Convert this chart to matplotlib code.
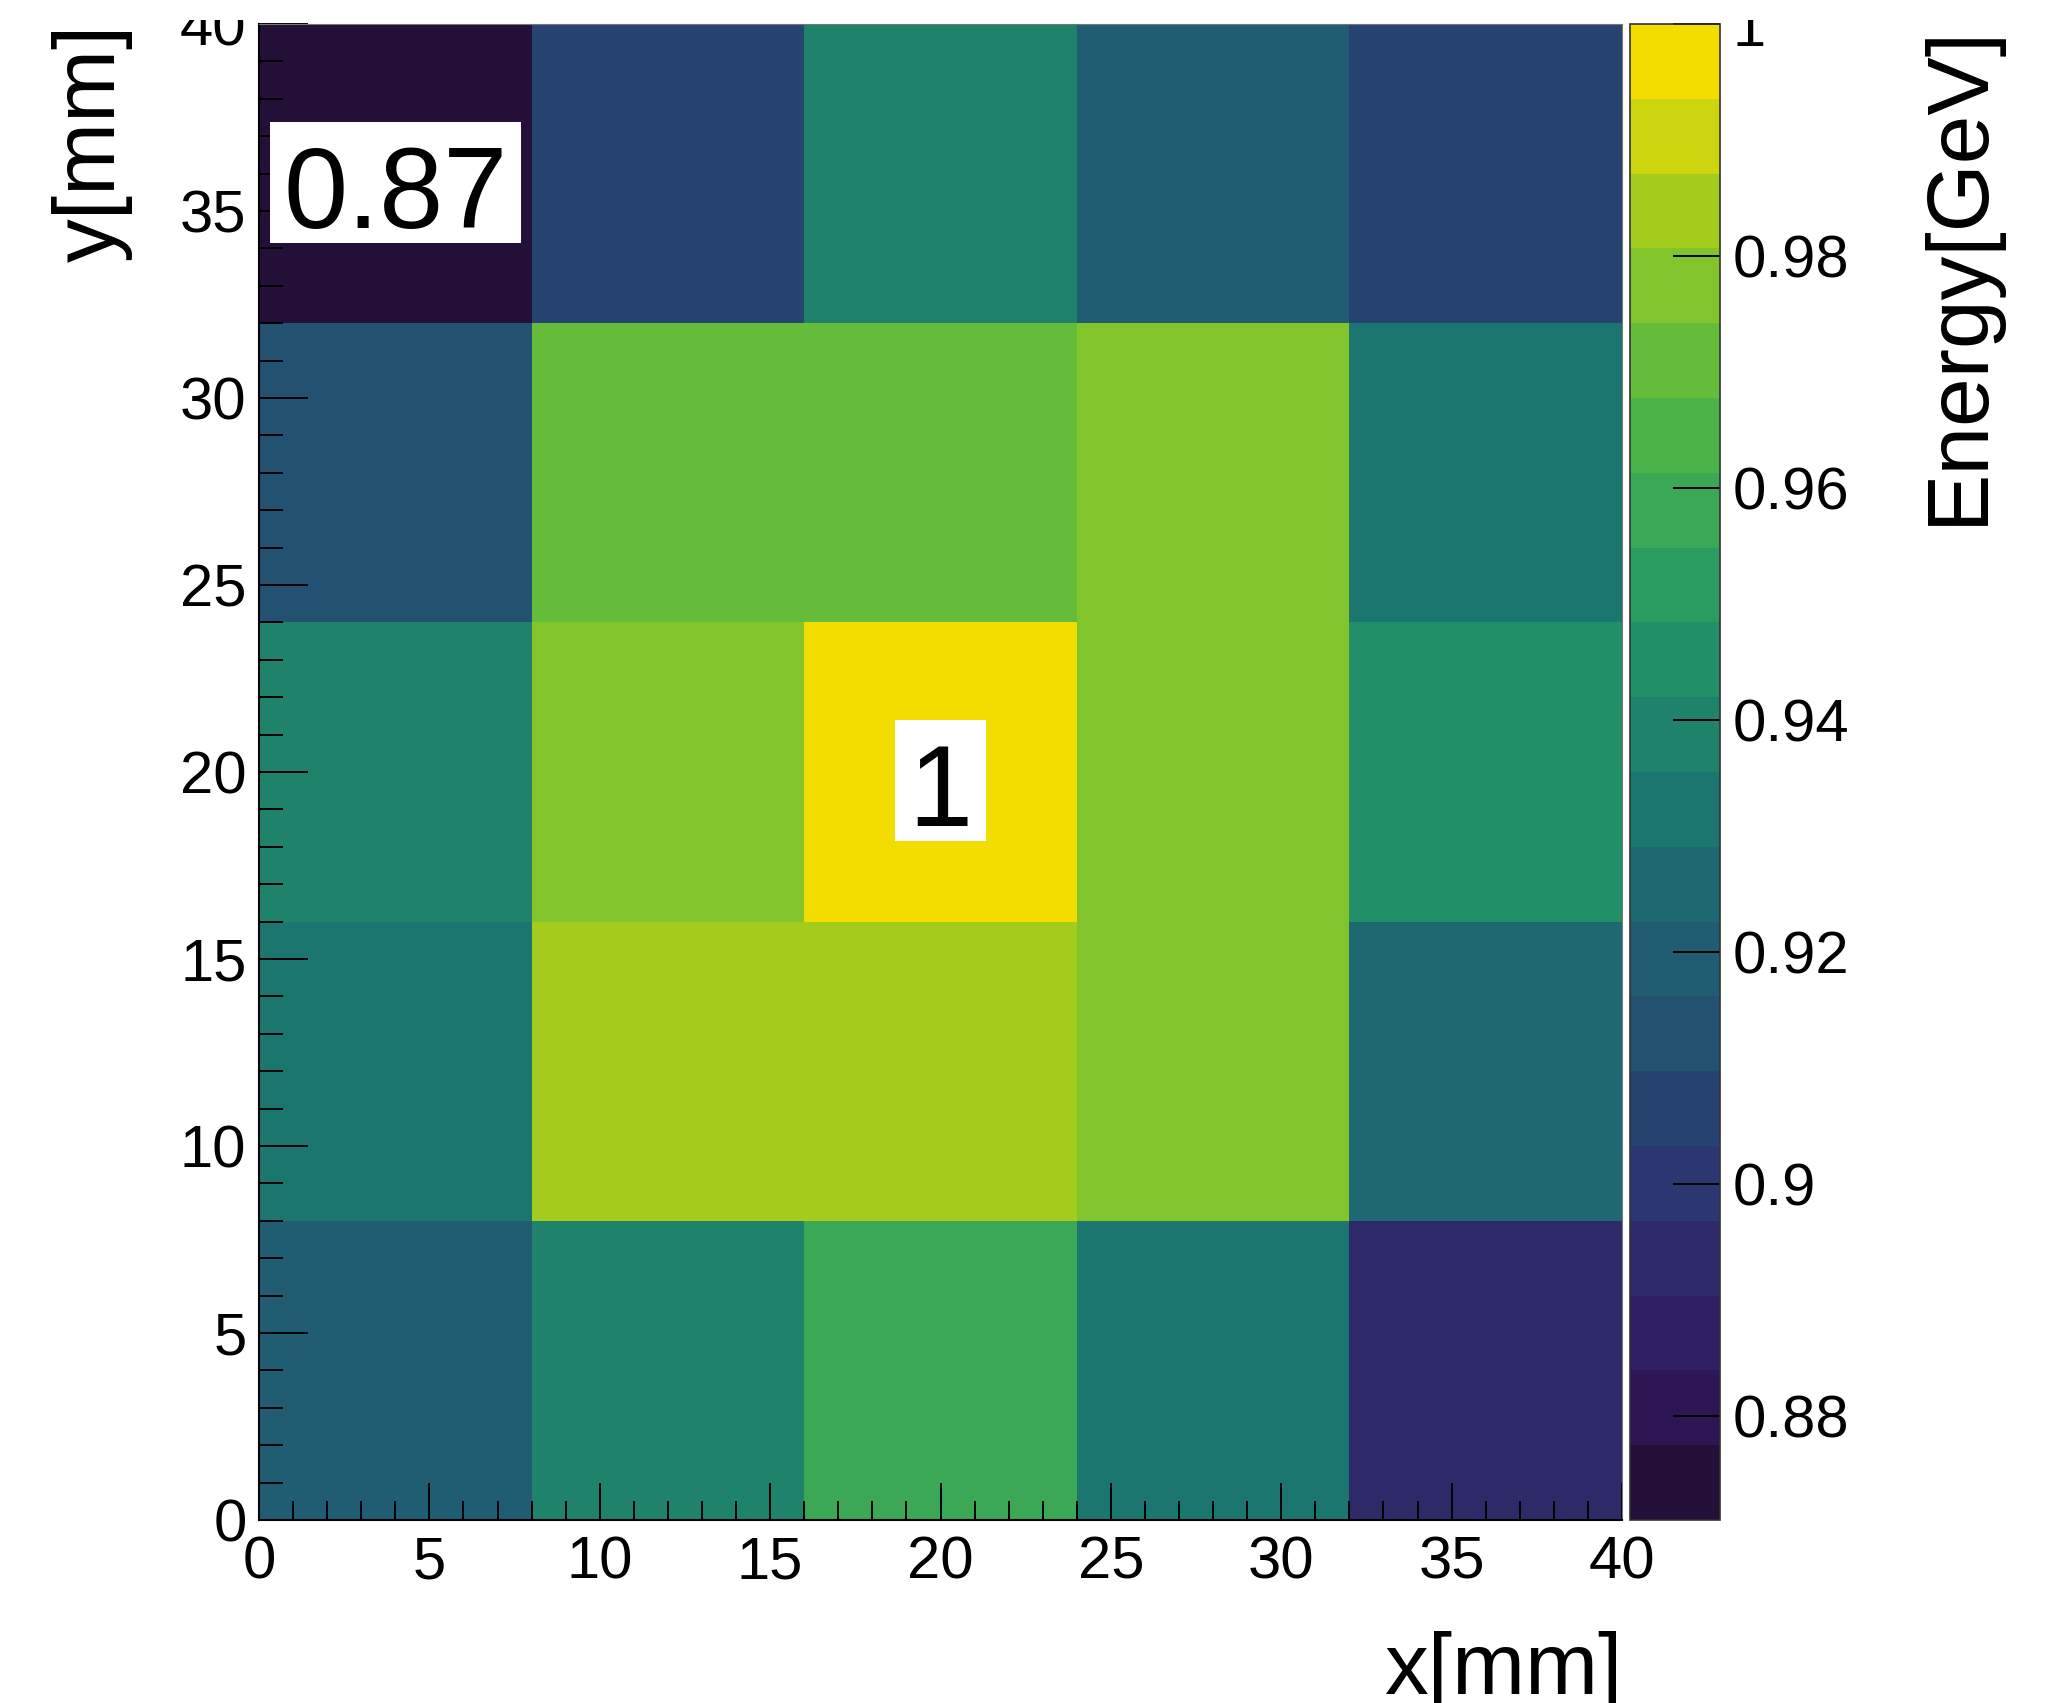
import numpy as np
import matplotlib
matplotlib.use("Agg")
import matplotlib.pyplot as plt
from matplotlib.colors import ListedColormap, BoundaryNorm
from matplotlib.ticker import FixedLocator, MultipleLocator
from matplotlib.transforms import Bbox, TransformedBbox, offset_copy
from matplotlib.path import Path

plt.rcParams['font.family'] = ['Liberation Sans', 'DejaVu Sans']

# ---------------- data ----------------
x_edges = [0, 8, 16, 24, 32, 40]
y_edges = [0, 8, 16, 24, 32, 40]
# energy [GeV] per cell; each list is one row of cells (x = 0-8 ... 32-40)
energy_row_y0 = [0.919, 0.939, 0.958, 0.932, 0.894]
energy_row_y8 = [0.932, 0.984, 0.984, 0.977, 0.926]
energy_row_y16 = [0.939, 0.977, 1.000, 0.977, 0.945]
energy_row_y24 = [0.913, 0.971, 0.971, 0.977, 0.932]
energy_row_y32 = [0.871, 0.906, 0.939, 0.919, 0.906]

x_ticks = [0, 5, 10, 15, 20, 25, 30, 35, 40]
y_ticks = [0, 5, 10, 15, 20, 25, 30, 35, 40]
cbar_ticks = [0.88, 0.90, 0.92, 0.94, 0.96, 0.98, 1.00]
cbar_ticklabels = ['0.88', '0.9', '0.92', '0.94', '0.96', '0.98', '1']
n_contours = 20

x_title = 'x[mm]'
y_title = 'y[mm]'
z_title = 'Energy[GeV]'

# ---------------- ROOT kViridis palette ----------------
stops = np.linspace(0, 1, 9)
red = np.array([26, 51, 43, 33, 28, 35, 74, 144, 246]) / 255.
green = np.array([9, 24, 55, 87, 118, 150, 180, 200, 222]) / 255.
blue = np.array([30, 96, 112, 114, 112, 101, 72, 35, 0]) / 255.


def root_gradient(ncol=255):
    cols = []
    for g in range(1, len(stops)):
        n = int(np.floor(ncol * stops[g]) - np.floor(ncol * stops[g - 1]))
        for c in range(n):
            f = c / n
            cols.append((red[g - 1] + f * (red[g] - red[g - 1]),
                         green[g - 1] + f * (green[g] - green[g - 1]),
                         blue[g - 1] + f * (blue[g] - blue[g - 1])))
    return cols


palette = root_gradient(255)
band_colors = [palette[min(254, int((k + 0.99) * 255 / n_contours))] for k in range(n_contours)]
cmap = ListedColormap(band_colors)

Z = np.array([energy_row_y0, energy_row_y8, energy_row_y16, energy_row_y24, energy_row_y32])
zmin, zmax = Z.min(), Z.max()
levels = np.linspace(zmin, zmax, n_contours + 1)
norm = BoundaryNorm(levels, cmap.N)

# ---------------- figure ----------------
W, H = 2054, 1703
fig = plt.figure(figsize=(W / 100, H / 100), dpi=100)
ax = fig.add_axes([259 / W, 183 / H, 1363 / W, 1496 / H])
cax = fig.add_axes([1630 / W, 183 / H, 90 / W, 1496 / H])

mesh = ax.pcolormesh(x_edges, y_edges, Z, cmap=cmap, norm=norm, shading='flat')
ax.set_xlim(x_edges[0], x_edges[-1])
ax.set_ylim(y_edges[0], y_edges[-1])

tick_fs = 43
title_fs = 63
ax.xaxis.set_major_locator(FixedLocator(x_ticks))
ax.yaxis.set_major_locator(FixedLocator(y_ticks))
ax.xaxis.set_minor_locator(MultipleLocator(1))
ax.yaxis.set_minor_locator(MultipleLocator(1))
ax.set_xticklabels([str(t) for t in x_ticks])
ax.set_yticklabels([str(t) for t in y_ticks])
ax.tick_params(axis='x', which='major', direction='in', length=27, width=1.4,
               labelsize=tick_fs, pad=11, top=False)
ax.tick_params(axis='x', which='minor', direction='in', length=14, width=1.4, top=False)
ax.tick_params(axis='y', which='major', direction='in', length=35, width=1.4,
               labelsize=tick_fs, pad=9, right=False)
ax.tick_params(axis='y', which='minor', direction='in', length=17, width=1.4, right=False)

for s in ['left', 'bottom']:
    ax.spines[s].set_linewidth(1.5)
    ax.spines[s].set_color('black')
for s in ['top', 'right']:
    ax.spines[s].set_linewidth(0.8)
    ax.spines[s].set_color('#777777')

ax.set_xlabel(x_title, fontsize=title_fs, loc='right')
ax.xaxis.set_label_coords(1.0, -0.074)
ax.set_ylabel(y_title, fontsize=title_fs, loc='top')
ax.yaxis.set_label_coords(-0.0924, 1.0)

# colorbar
cb = fig.colorbar(mesh, cax=cax, boundaries=levels, ticks=cbar_ticks, drawedges=False)
cb.set_ticklabels(cbar_ticklabels)
cax.yaxis.set_ticks_position('right')
cax.tick_params(axis='y', which='major', direction='in', length=34, width=1.4,
                labelsize=tick_fs, pad=9)
cax.minorticks_off()
cb.outline.set_linewidth(1.2)
cb.outline.set_edgecolor('#333333')
cb.set_label(z_title, fontsize=title_fs, loc='top')
cax.yaxis.set_label_coords(3.21, 1.0)

# clip tick labels at the canvas top like the reference
clip = TransformedBbox(Bbox([[0, 0], [1, (H - 20) / H]]), fig.transFigure)
for lab in ax.get_yticklabels() + cax.get_yticklabels():
    lab.set_clip_box(clip)
    lab.set_clip_on(True)


# ---------------- min / max labels ----------------
def tight_box(x0, y0, width, height, mutation_size):
    px = 0.115 * mutation_size
    ptop = 0.20 * mutation_size
    pbot = -0.08 * mutation_size
    verts = [(x0 - px, y0 - pbot), (x0 + width + px, y0 - pbot),
             (x0 + width + px, y0 + height + ptop), (x0 - px, y0 + height + ptop),
             (x0 - px, y0 - pbot)]
    return Path(verts, closed=True)


xc = 0.5 * (np.array(x_edges[:-1]) + np.array(x_edges[1:]))
yc = 0.5 * (np.array(y_edges[:-1]) + np.array(y_edges[1:]))
trans = offset_copy(ax.transData, fig=fig, x=0, y=-25, units='dots')
for idx in [np.unravel_index(np.argmin(Z), Z.shape), np.unravel_index(np.argmax(Z), Z.shape)]:
    v = Z[idx]
    ax.text(xc[idx[1]], yc[idx[0]], f"{v:.2g}", transform=trans, fontsize=83,
            ha='center', va='center', color='black',
            bbox=dict(boxstyle=tight_box, facecolor='white', edgecolor='none'))

fig.savefig('out.png', dpi=100)
